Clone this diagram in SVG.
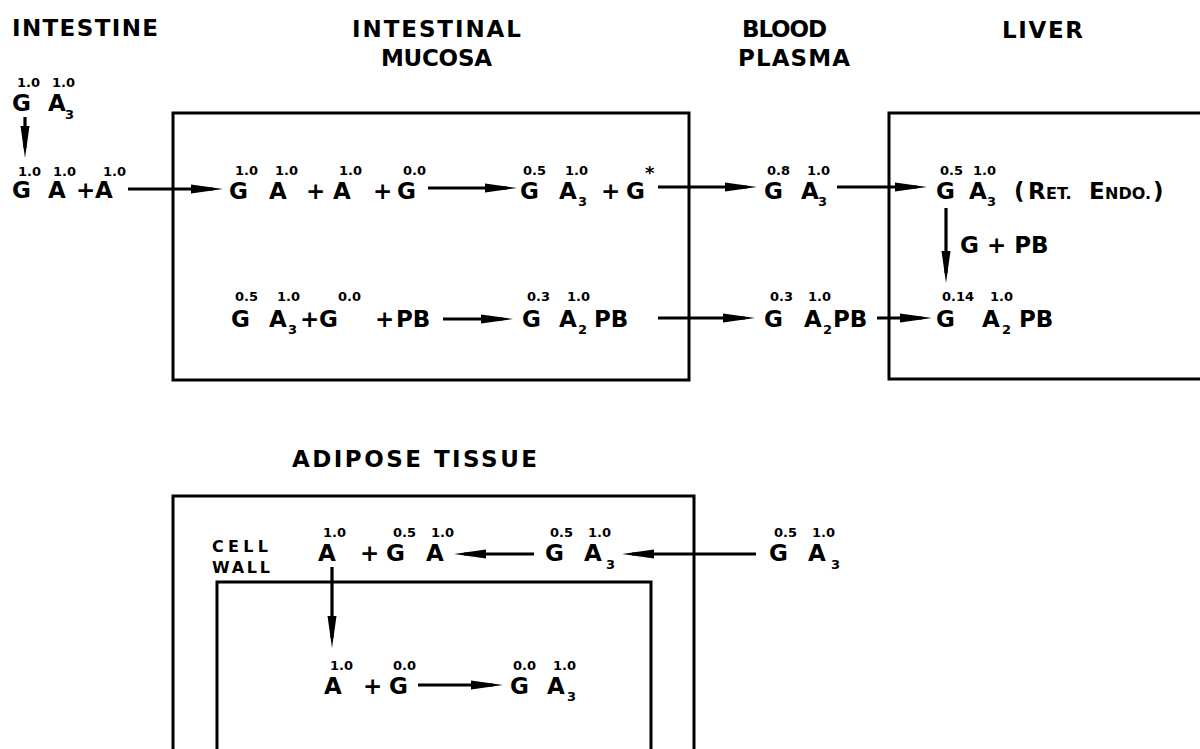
<svg xmlns="http://www.w3.org/2000/svg" width="1200" height="749" viewBox="0 0 1200 749">
<style>
text{font-family:"DejaVu Sans","Liberation Sans",sans-serif;font-weight:bold;fill:#000}
.h{font-size:23px}
.m{font-size:23px}
.s{font-size:13px}
.c{font-size:16px}
.box{fill:none;stroke:#000;stroke-width:3}
.ar{fill:none;stroke:#000;stroke-width:3.2;marker-end:url(#ah)}
</style>
<defs>
<marker id="ah" markerUnits="userSpaceOnUse" markerWidth="32" markerHeight="12" viewBox="0 0 32 12" refX="22" refY="6" orient="auto">
<path d="M0,1.5 L32,6 L0,10.5 z" fill="#000"/>
</marker>
</defs>
<rect width="1200" height="749" fill="#fff"/>

<g id="headers">
<text class="h" x="12" y="36" textLength="146" lengthAdjust="spacing">INTESTINE</text>
<text class="h" x="352" y="37" textLength="169" lengthAdjust="spacing">INTESTINAL</text>
<text class="h" x="381" y="66" textLength="111" lengthAdjust="spacing">MUCOSA</text>
<text class="h" x="742" y="37" textLength="85" lengthAdjust="spacing">BLOOD</text>
<text class="h" x="738" y="66" textLength="112" lengthAdjust="spacing">PLASMA</text>
<text class="h" x="1002" y="38" textLength="81" lengthAdjust="spacing">LIVER</text>
<text class="h" x="292" y="467" textLength="245" lengthAdjust="spacing">ADIPOSE TISSUE</text>
</g>

<g id="mucosa-box"><rect class="box" x="173" y="113" width="516" height="267"/></g>
<g id="liver-box"><path class="box" d="M1200,113 H889 V379 H1200"/></g>
<g id="adipose-box"><path class="box" d="M173,749 V496 H694 V749"/></g>
<g id="cell-wall"><path class="box" d="M217,749 V582 H651 V749"/>
<text class="c" x="212" y="552" textLength="56" lengthAdjust="spacing">CELL</text>
<text class="c" x="212" y="573" textLength="58" lengthAdjust="spacing">WALL</text>
</g>

<g id="intestine-GA3">
<text class="m" x="12" y="111">G</text><text class="s" x="17" y="87">1.0</text>
<text class="m" x="48" y="111">A</text><text class="s" x="52" y="87">1.0</text><text class="s" x="65" y="119">3</text>
</g>
<g id="intestine-GA-A">
<text class="m" x="12" y="198">G</text><text class="s" x="18" y="176">1.0</text>
<text class="m" x="48" y="198">A</text><text class="s" x="53" y="176">1.0</text>
<text class="m" x="76" y="198">+</text>
<text class="m" x="95" y="198">A</text><text class="s" x="103" y="176">1.0</text>
</g>

<g id="mucosa-row1-left">
<text class="m" x="229" y="199">G</text><text class="s" x="235" y="175">1.0</text>
<text class="m" x="269" y="199">A</text><text class="s" x="275" y="175">1.0</text>
<text class="m" x="306" y="199">+</text>
<text class="m" x="333" y="199">A</text><text class="s" x="339" y="175">1.0</text>
<text class="m" x="373" y="199">+</text>
<text class="m" x="397" y="199">G</text><text class="s" x="403" y="175">0.0</text>
</g>
<g id="mucosa-row1-right">
<text class="m" x="520" y="199">G</text><text class="s" x="523" y="175">0.5</text>
<text class="m" x="559" y="199">A</text><text class="s" x="565" y="175">1.0</text><text class="s" x="578" y="206">3</text>
<text class="m" x="601" y="199">+</text>
<text class="m" x="626" y="199">G</text><text class="c" x="645" y="179" style="font-size:18px">*</text>
</g>
<g id="plasma-GA3">
<text class="m" x="764" y="199">G</text><text class="s" x="767" y="175">0.8</text>
<text class="m" x="801" y="199">A</text><text class="s" x="807" y="175">1.0</text><text class="s" x="818" y="206">3</text>
</g>
<g id="liver-GA3">
<text class="m" x="936" y="199">G</text><text class="s" x="940" y="175">0.5</text>
<text class="m" x="969" y="199">A</text><text class="s" x="973" y="175">1.0</text><text class="s" x="987" y="206">3</text>
<text class="m" y="199"><tspan x="1014">(</tspan><tspan x="1028">R</tspan><tspan class="c" x="1046">ET.</tspan><tspan x="1089">E</tspan><tspan class="c" x="1105">NDO.</tspan><tspan x="1153">)</tspan></text>
</g>
<g id="liver-GPB"><text class="m" x="960" y="253">G + PB</text></g>

<g id="mucosa-row2-left">
<text class="m" x="231" y="327">G</text><text class="s" x="235" y="301">0.5</text>
<text class="m" x="269" y="327">A</text><text class="s" x="277" y="301">1.0</text><text class="s" x="288" y="334">3</text>
<text class="m" x="300" y="327">+</text>
<text class="m" x="319" y="327">G</text><text class="s" x="338" y="301">0.0</text>
<text class="m" x="375" y="327">+</text>
<text class="m" x="396" y="327">PB</text>
</g>
<g id="mucosa-row2-right">
<text class="m" x="522" y="327">G</text><text class="s" x="527" y="301">0.3</text>
<text class="m" x="559" y="327">A</text><text class="s" x="567" y="301">1.0</text><text class="s" x="578" y="334">2</text>
<text class="m" x="594" y="327">PB</text>
</g>
<g id="plasma-GA2PB">
<text class="m" x="764" y="327">G</text><text class="s" x="770" y="301">0.3</text>
<text class="m" x="804" y="327">A</text><text class="s" x="808" y="301">1.0</text><text class="s" x="823" y="334">2</text>
<text class="m" x="833" y="327">PB</text>
</g>
<g id="liver-GA2PB">
<text class="m" x="936" y="327">G</text><text class="s" x="942" y="301">0.14</text>
<text class="m" x="982" y="327">A</text><text class="s" x="990" y="301">1.0</text><text class="s" x="1002" y="334">2</text>
<text class="m" x="1019" y="327">PB</text>
</g>

<g id="adipose-row1">
<text class="m" x="318" y="561">A</text><text class="s" x="323" y="537">1.0</text>
<text class="m" x="360" y="561">+</text>
<text class="m" x="386" y="561">G</text><text class="s" x="393" y="537">0.5</text>
<text class="m" x="426" y="561">A</text><text class="s" x="431" y="537">1.0</text>
</g>
<g id="adipose-GA3">
<text class="m" x="545" y="561">G</text><text class="s" x="550" y="537">0.5</text>
<text class="m" x="584" y="561">A</text><text class="s" x="588" y="537">1.0</text><text class="s" x="606" y="569">3</text>
</g>
<g id="plasma-GA3-adipose">
<text class="m" x="769" y="561">G</text><text class="s" x="774" y="537">0.5</text>
<text class="m" x="808" y="561">A</text><text class="s" x="812" y="537">1.0</text><text class="s" x="831" y="569">3</text>
</g>
<g id="adipose-row2">
<text class="m" x="324" y="694">A</text><text class="s" x="330" y="670">1.0</text>
<text class="m" x="363" y="694">+</text>
<text class="m" x="389" y="694">G</text><text class="s" x="393" y="670">0.0</text>
</g>
<g id="adipose-GA3-inner">
<text class="m" x="510" y="694">G</text><text class="s" x="513" y="670">0.0</text>
<text class="m" x="547" y="694">A</text><text class="s" x="553" y="670">1.0</text><text class="s" x="567" y="701">3</text>
</g>

<g id="connectors">
<line class="ar" x1="25" y1="117" x2="25" y2="148"/>
<line class="ar" x1="128" y1="189" x2="213" y2="189"/>
<line class="ar" x1="428" y1="188" x2="507" y2="188"/>
<line class="ar" x1="658" y1="187" x2="747" y2="187"/>
<line class="ar" x1="837" y1="187" x2="917" y2="187"/>
<line class="ar" x1="946" y1="208" x2="946" y2="273"/>
<line class="ar" x1="443" y1="319" x2="503" y2="319"/>
<line class="ar" x1="658" y1="318" x2="745" y2="318"/>
<line class="ar" x1="877" y1="318" x2="922" y2="318"/>
<line class="ar" x1="534" y1="554" x2="464" y2="554"/>
<line class="ar" x1="756" y1="554" x2="632" y2="554"/>
<line class="ar" x1="332" y1="567" x2="332" y2="638"/>
<line class="ar" x1="418" y1="685" x2="493" y2="685"/>
</g>
</svg>
